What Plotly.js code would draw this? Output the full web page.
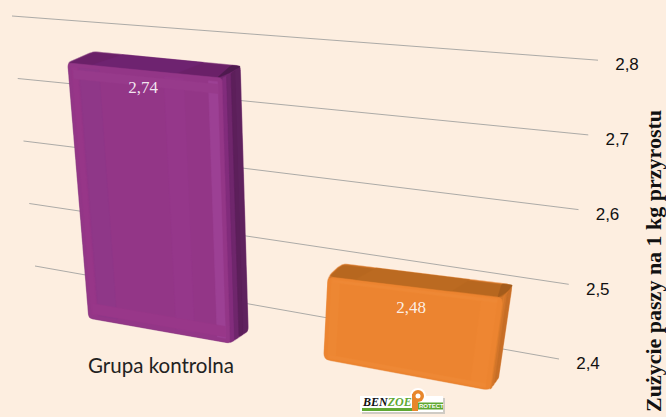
<!DOCTYPE html>
<html><head><meta charset="utf-8">
<script src="https://cdn.plot.ly/plotly-3.0.1.min.js"></script>
<style>html,body{margin:0;padding:0;background:#fdeee0;overflow:hidden}</style>
</head><body><div id="chart" style="width:666px;height:417px"></div>
<script>
// ---- data
const tickValues = [2.4, 2.5, 2.6, 2.7, 2.8];
const tickLabels = ['2,4', '2,5', '2,6', '2,7', '2,8'];
const categories = ['Grupa kontrolna', ''];
const values = [2.74, 2.48];
const valueLabels = ['2,74', '2,48'];
const axisTitle = 'Zużycie paszy na 1 kg przyrostu';
const axisBase = 2.4;

// ---- perspective model: maps (across, value) on the rear wall to the page
const wall = { lLow:[35,266], lStep:[-5.75,-62.5], rLow:[559,359], rStep:[9.75,-74.7] };
const wallAt = (u, v) => {
  const t = (v - axisBase) / 0.1;
  const l = [wall.lLow[0]+wall.lStep[0]*t, wall.lLow[1]+wall.lStep[1]*t];
  const r = [wall.rLow[0]+wall.rStep[0]*t, wall.rLow[1]+wall.rStep[1]*t];
  return [l[0]+(r[0]-l[0])*u, l[1]+(r[1]-l[1])*u];
};
// each bar: front-face base corners, page shift per unit of value on each side, shift to the rear
const frames = [
  { bl:[89,318], br:[230,343], sl:[-61.8,-750], sr:[-23.5,-779], backL:[25,-11], backR:[18,-12], r:4 },
  { bl:[324,359], br:[490,390], sl:[50,-1025], sr:[162,-1150], backL:[14,-13], backR:[9,-13], r:6 }
];
const palette = [
  { base:'#933687', top:'#6a2068', topHi:'#6e2370', topDark:'#4f1a4f', edge:'rgba(120,45,115,0.4)',
    side:['#822c7c','#6f266c','#5c1f5a','#5f225e'],
    strips:[[.02,.06,'#973688'],[.07,.2,'#8f3788'],[.62,.75,'#95378a'],[.91,.97,'#9c4094']],
    lip:'#973a8b', foot:'#983789' },
  { base:'#ec8430', top:'#b7671f', topHi:'#bb6a21', topDark:'#a45c1c', edge:'rgba(225,125,45,0.4)',
    side:['#dd7d2b','#d2752a','#c66f26','#c86f28'],
    strips:[[.02,.07,'#ed8733'],[.88,.97,'#ee8632']],
    lip:'#ee8835', foot:'#ee8835' }
];
const mix = (a,b,t) => [a[0]+(b[0]-a[0])*t, a[1]+(b[1]-a[1])*t];
const add = (a,b) => [a[0]+b[0], a[1]+b[1]];
// rounds the corners of a polygon with the given radius
const rounded = (pts, r) => {
  const out = [];
  pts.forEach((p,i) => {
    const a = pts[(i+pts.length-1)%pts.length], b = pts[(i+1)%pts.length];
    const la = Math.hypot(a[0]-p[0],a[1]-p[1]), lb = Math.hypot(b[0]-p[0],b[1]-p[1]);
    const s = mix(p,a,Math.min(.45,r/la)), e = mix(p,b,Math.min(.45,r/lb));
    for (let k=0;k<=4;k++){ const t=k/4; out.push(mix(mix(s,p,t),mix(p,e,t),t)); }
  });
  return out;
};
const traces = [];
const poly = (pts, color, edge) => traces.push({
  type:'scatter', mode:'lines', x:[...pts.map(p=>p[0]),pts[0][0]], y:[...pts.map(p=>p[1]),pts[0][1]],
  fill:'toself', fillcolor:color, line:{width:edge?1.6:0.5,color:edge||color}, hoverinfo:'skip', showlegend:false
});

// gridlines on the rear wall
tickValues.forEach(v => {
  const a = wallAt(0,v), b = wallAt(1,v);
  traces.push({type:'scatter',mode:'lines',x:[a[0],b[0]],y:[a[1],b[1]],
    line:{color:'#a3a3a0',width:0.9},hoverinfo:'skip',showlegend:false});
});

// bars
values.forEach((v,i) => {
  const f = frames[i], c = palette[i], h = v - axisBase;
  const tl = add(f.bl,[f.sl[0]*h,f.sl[1]*h]), tr = add(f.br,[f.sr[0]*h,f.sr[1]*h]);
  const tlB = add(tl,f.backL), trB = add(tr,f.backR), brB = add(f.br,f.backR);
  const face = (u0,u1,w0,w1,col) => poly([
    mix(mix(f.bl,tl,w1),mix(f.br,tr,w1),u0), mix(mix(f.bl,tl,w1),mix(f.br,tr,w1),u1),
    mix(mix(f.bl,tl,w0),mix(f.br,tr,w0),u1), mix(mix(f.bl,tl,w0),mix(f.br,tr,w0),u0)], col);
  // silhouette, soft-edged
  poly(rounded([f.bl,tl,tlB,trB,brB,f.br], f.r), c.side[1], c.edge);
  // right side
  c.side.forEach((col,k) => {
    const a=k/c.side.length, b=(k+1)/c.side.length;
    poly(rounded([mix(tr,trB,a),mix(tr,trB,b),mix(f.br,brB,b),mix(f.br,brB,a)],2),col);
  });
  // top
  poly(rounded([tl,tlB,trB,tr], f.r-1), c.top, c.edge);
  poly([mix(tl,tr,.15), mix(tlB,trB,.2), mix(tlB,trB,.75), mix(tl,tr,.7)], c.topHi);
  poly(rounded([mix(tlB,trB,.94),add(trB,[1,0]),mix(trB,tr,.5),mix(tl,tr,.97)],2), c.topDark);
  // front
  poly(rounded([f.bl,f.br,tr,tl],f.r-1), c.base);
  c.strips.forEach(s => face(s[0],s[1],.015,.985,s[2]));
  face(.03,.97,.94,.975,c.lip);
  face(.03,.97,.02,.06,c.foot);
});

// value labels
const labelAnchors = [[143,89],[411,309]];
traces.push({type:'scatter',mode:'text',x:labelAnchors.map(p=>p[0]),y:labelAnchors.map(p=>p[1]),
  text:valueLabels,textposition:'middle center',
  textfont:{family:'Liberation Serif',size:17,color:'rgba(255,255,255,0.88)'},hoverinfo:'skip',showlegend:false});

// value-axis tick labels, following the rear wall outwards
traces.push({type:'scatter',mode:'text',
  x:tickValues.map(v=>wallAt(1,v)[0]+29),y:tickValues.map(v=>wallAt(1,v)[1]+6),
  text:tickLabels,textposition:'middle center',
  textfont:{family:'Liberation Sans',size:17,color:'#111111'},hoverinfo:'skip',showlegend:false});

// category label
traces.push({type:'scatter',mode:'text',x:[161],y:[367.5],text:[categories[0]],textposition:'middle center',
  textfont:{family:'Lato',size:20.5,color:'#222222'},hoverinfo:'skip',showlegend:false});

const rect=(x0,y0,x1,y1,fill)=>({type:'rect',xref:'x',yref:'y',x0,y0,x1,y1,fillcolor:fill,line:{width:0},layer:'above'});
const disc=(x0,y0,x1,y1,fill)=>({type:'circle',xref:'x',yref:'y',x0,y0,x1,y1,fillcolor:fill,line:{width:0},layer:'above'});
const layout = {
  width:666,height:417,margin:{l:0,r:0,t:0,b:0},
  paper_bgcolor:'#fdeee0',plot_bgcolor:'#fdeee0',showlegend:false,
  xaxis:{range:[0,666],visible:false,fixedrange:true},
  yaxis:{range:[417,0],visible:false,fixedrange:true},
  shapes:[
    rect(362,398,445,414,'#cfcbc4'),
    rect(360,396,443,412,'#ffffff'),
    rect(362,408,412,411,'#5fa832'),
    disc(410,388,426,404,'#ffffff'),
    rect(418,402.5,443,409.5,'#5fa832'),
    rect(412,394,418,411,'#e8872c'),
    disc(412,390,424,402,'#e8872c'),
    disc(415.5,393.5,420.5,398.5,'#ffffff')
  ],
  annotations:[
    {xref:'x',yref:'y',x:653,y:261,text:'<b>'+axisTitle+'</b>',textangle:-90,showarrow:false,
      font:{family:'Liberation Serif',size:22,color:'#111'}},
    {xref:'x',yref:'y',x:386.5,y:402,text:'<b><i>BEN<span style="color:#5fa832">ZOE</span></i></b>',showarrow:false,
      font:{family:'Liberation Serif',size:12,color:'#111'}},
    {xref:'x',yref:'y',x:431,y:406,text:'<b>ROTECT</b>',showarrow:false,
      font:{family:'Liberation Sans',size:6,color:'#ffffff'}}
  ]
};
Plotly.newPlot('chart',traces,layout,{displayModeBar:false,staticPlot:true});
</script></body></html>
